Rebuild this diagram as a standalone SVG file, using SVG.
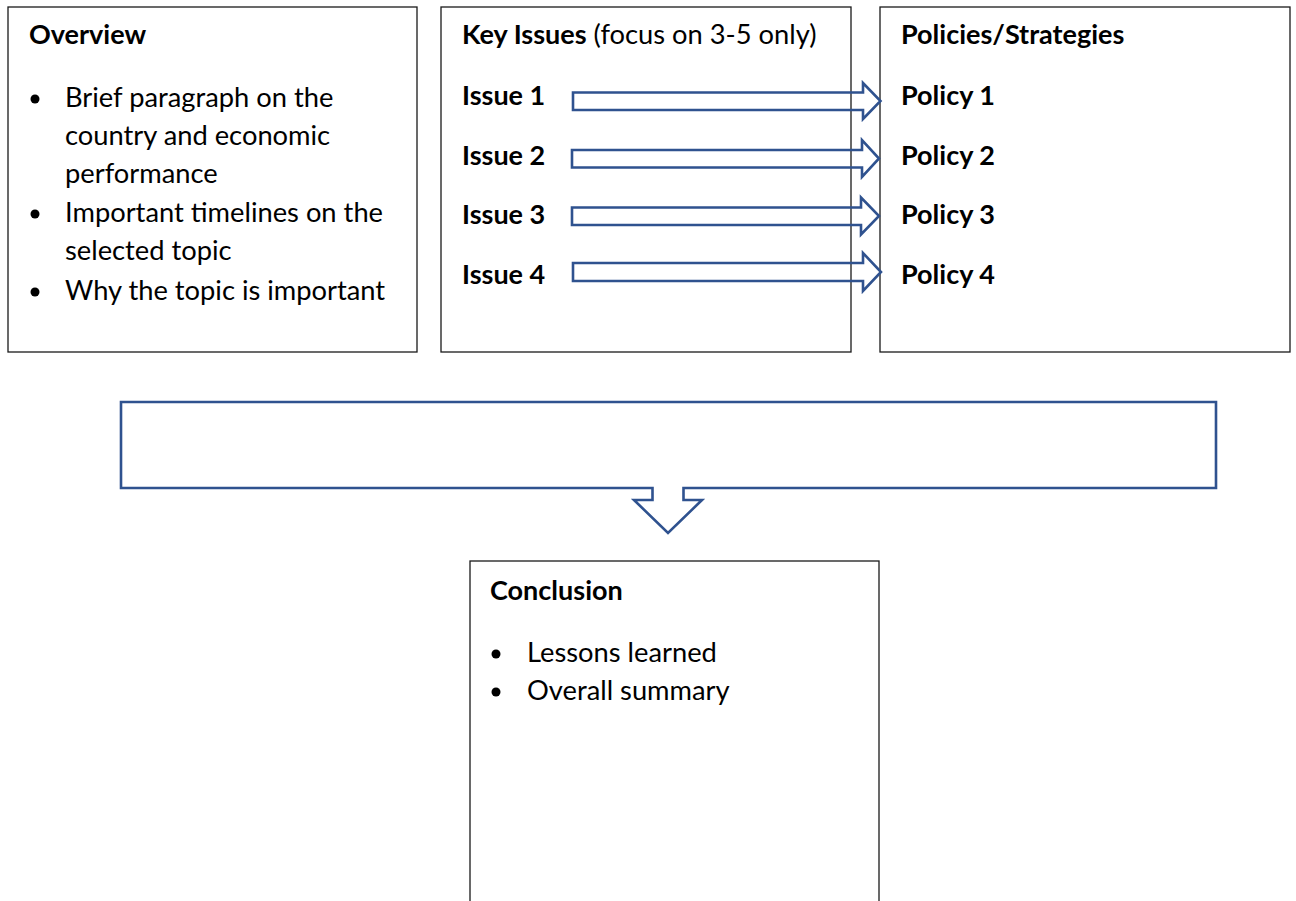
<svg xmlns="http://www.w3.org/2000/svg" width="1296" height="901" viewBox="0 0 1296 901">
<style>
.box{fill:#fff;stroke:#1a1a1a;stroke-width:1.3}
.arr{fill:none;stroke:#2F528F;stroke-width:2.6;stroke-linejoin:miter}
text{font-family:Lato,"Liberation Sans",sans-serif;fill:#000}
.h{font-size:27px;font-weight:bold}
.t{font-size:27.3px}
.dot{fill:#000}
</style>
<rect width="1296" height="901" fill="#fff"/>
<g id="overview">
<rect class="box" x="8" y="7" width="409" height="345"/>
<text class="h" x="29" y="44">Overview</text>
<circle class="dot" cx="35" cy="99" r="4.5"/>
<text class="t" x="65" y="107">Brief paragraph on the</text>
<text class="t" x="65" y="145">country and economic</text>
<text class="t" x="65" y="183">performance</text>
<circle class="dot" cx="35" cy="214" r="4.5"/>
<text class="t" x="65" y="222">Important timelines on the</text>
<text class="t" x="65" y="260">selected topic</text>
<circle class="dot" cx="35" cy="292" r="4.5"/>
<text class="t" x="65" y="300">Why the topic is important</text>
</g>
<g id="key-issues">
<rect class="box" x="441" y="7" width="410" height="345"/>
<text x="462" y="44"><tspan class="h" font-size="26.5">Key Issues</tspan><tspan class="t" font-size="25.5"> (focus on 3-5 only)</tspan></text>
<text class="h" x="462" y="105">Issue 1</text>
<text class="h" x="462" y="165">Issue 2</text>
<text class="h" x="462" y="224">Issue 3</text>
<text class="h" x="462" y="284">Issue 4</text>
</g>
<g id="policies">
<rect class="box" x="880" y="7" width="410" height="345"/>
<text class="h" x="901" y="44">Policies/Strategies</text>
<text class="h" x="901" y="105">Policy 1</text>
<text class="h" x="901" y="165">Policy 2</text>
<text class="h" x="901" y="224">Policy 3</text>
<text class="h" x="901" y="284">Policy 4</text>
</g>
<g id="conclusion">
<rect class="box" x="470" y="561" width="409" height="360"/>
<text class="h" x="490" y="600">Conclusion</text>
<circle class="dot" cx="496" cy="654" r="4.5"/>
<text class="t" x="527" y="662">Lessons learned</text>
<circle class="dot" cx="496" cy="692" r="4.5"/>
<text class="t" x="527" y="700">Overall summary</text>
</g>
<g id="connectors">
<path class="arr" d="M573,92.5 H863 V83 L880.5,101 L863,119 V110 H573 Z"/>
<path class="arr" d="M572,150 H862 V140 L879,158.5 L862,177 V167.5 H572 Z"/>
<path class="arr" d="M572,207.5 H861 V197.5 L879,216 L861,234.5 V225 H572 Z"/>
<path class="arr" d="M573,263 H863 V253 L881,272 L863,291 V281 H573 Z"/>
<path class="arr" d="M121,402 H1216 V488 H683.5 V500 H702 L668,533 L634,500 H652.5 V488 H121 Z"/>
</g>
</svg>
